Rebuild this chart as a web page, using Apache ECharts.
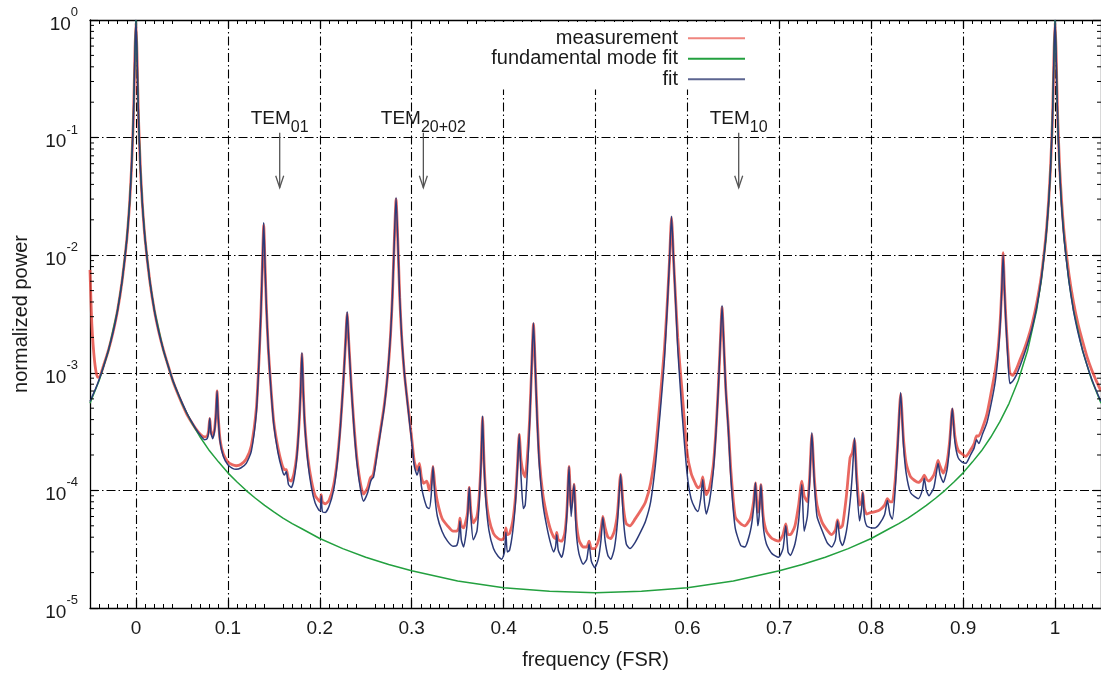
<!DOCTYPE html>
<html><head><meta charset="utf-8">
<script src="https://cdn.jsdelivr.net/npm/echarts@6/dist/echarts.min.js"></script>
<style>html,body{margin:0;padding:0;background:#fff}#c{width:1101px;height:675px}</style>
</head><body><div id="c"></div>
<script>
// ---------- data ----------
const freq = [
 -0.05, -0.048, -0.045, -0.042, -0.04, -0.035, -0.03, -0.025, -0.02, -0.015,
 -0.01, -0.007, -0.005, -0.003, -0.002, -0.001, 0, 0.001, 0.002, 0.003,
 0.005, 0.007, 0.01, 0.015, 0.02, 0.025, 0.03, 0.035, 0.04, 0.045,
 0.05, 0.055, 0.06, 0.065, 0.07, 0.0745, 0.0775, 0.079, 0.0803, 0.0815,
 0.0835, 0.0855, 0.087, 0.0883, 0.0895, 0.0915, 0.095, 0.1, 0.105, 0.109,
 0.114, 0.12, 0.1255, 0.131, 0.134, 0.136, 0.1375, 0.139, 0.1405, 0.142,
 0.144, 0.147, 0.15, 0.1545, 0.159, 0.1615, 0.1636, 0.166, 0.169, 0.172,
 0.175, 0.1775, 0.179, 0.1806, 0.1822, 0.1837, 0.187, 0.191, 0.195, 0.199,
 0.2005, 0.2016, 0.2028, 0.206, 0.21, 0.215, 0.219, 0.2225, 0.2255, 0.228,
 0.2298, 0.2316, 0.2341, 0.2371, 0.2405, 0.2445, 0.2476, 0.252, 0.2555, 0.2566,
 0.2585, 0.263, 0.27, 0.274, 0.277, 0.279, 0.2812, 0.283, 0.2848, 0.287,
 0.289, 0.292, 0.296, 0.3, 0.3029, 0.306, 0.3084, 0.3105, 0.313, 0.3165,
 0.3192, 0.3212, 0.3232, 0.3252, 0.328, 0.333, 0.339, 0.345, 0.349, 0.3512,
 0.3525, 0.354, 0.3565, 0.359, 0.3608, 0.3626, 0.3645, 0.367, 0.371, 0.3735,
 0.3755, 0.3771, 0.3787, 0.3808, 0.384, 0.389, 0.394, 0.398, 0.401, 0.4025,
 0.404, 0.4065, 0.41, 0.413, 0.415, 0.417, 0.419, 0.4215, 0.4235, 0.426,
 0.4285, 0.4305, 0.4325, 0.4345, 0.4365, 0.439, 0.4425, 0.4458, 0.4505, 0.4545,
 0.4565, 0.4578, 0.4595, 0.4632, 0.4665, 0.469, 0.4712, 0.4735, 0.4766, 0.479,
 0.482, 0.4866, 0.4905, 0.493, 0.4955, 0.4992, 0.503, 0.506, 0.508, 0.5105,
 0.5135, 0.5166, 0.5205, 0.524, 0.5273, 0.5305, 0.5335, 0.5375, 0.543, 0.5495,
 0.5545, 0.56, 0.565, 0.569, 0.572, 0.575, 0.578, 0.5805, 0.5827, 0.585,
 0.5875, 0.5895, 0.592, 0.5942, 0.5996, 0.604, 0.6085, 0.6115, 0.6145, 0.6167,
 0.6185, 0.6205, 0.624, 0.628, 0.631, 0.6335, 0.6355, 0.6377, 0.6398, 0.6418,
 0.6445, 0.6475, 0.652, 0.658, 0.6625, 0.6685, 0.672, 0.674, 0.6765, 0.678,
 0.68, 0.6825, 0.686, 0.692, 0.6992, 0.704, 0.707, 0.7095, 0.712, 0.717,
 0.721, 0.7245, 0.727, 0.7305, 0.733, 0.7354, 0.738, 0.741, 0.7463, 0.752,
 0.757, 0.761, 0.7633, 0.766, 0.7687, 0.773, 0.777, 0.7795, 0.7818, 0.784,
 0.7872, 0.7895, 0.7908, 0.7925, 0.7951, 0.8, 0.8042, 0.809, 0.8145, 0.8176,
 0.8205, 0.823, 0.826, 0.829, 0.832, 0.835, 0.838, 0.843, 0.8512, 0.8555,
 0.8577, 0.86, 0.8628, 0.868, 0.8705, 0.8727, 0.875, 0.8784, 0.8825, 0.8855,
 0.8882, 0.891, 0.8945, 0.8985, 0.903, 0.908, 0.912, 0.9146, 0.917, 0.921,
 0.926, 0.9308, 0.935, 0.938, 0.9405, 0.942, 0.9435, 0.945, 0.9465, 0.9485,
 0.9508, 0.954, 0.958, 0.962, 0.966, 0.97, 0.975, 0.98, 0.985, 0.99,
 0.993, 0.995, 0.997, 0.998, 0.999, 1.0, 1.001, 1.002, 1.003, 1.005,
 1.007, 1.01, 1.015, 1.02, 1.025, 1.03, 1.035, 1.04, 1.045, 1.05
];
const fitPower = [
 5.7e-4, 6.2e-4, 7.0e-4, 8.0e-4, 8.8e-4, 1.15e-3, 1.55e-3, 2.2e-3, 3.4e-3, 6.1e-3,
 0.0135, 0.027, 0.052, 0.13, 0.26, 0.58, 1.0, 0.58, 0.26, 0.13,
 0.052, 0.027, 0.0135, 6.1e-3, 3.4e-3, 2.2e-3, 1.55e-3, 1.15e-3, 8.7e-4, 6.9e-4,
 5.6e-4, 4.6e-4, 3.9e-4, 3.35e-4, 2.95e-4, 2.7e-4, 2.75e-4, 3.1e-4, 4.1e-4, 3.1e-4,
 2.75e-4, 3.2e-4, 4.4e-4, 7.0e-4, 4.2e-4, 2.6e-4, 1.95e-4, 1.65e-4, 1.54e-4, 1.51e-4,
 1.55e-4, 1.7e-4, 2.15e-4, 4.6e-4, 1.3e-3, 3.3e-3, 8.0e-3, 0.019, 8.0e-3, 3.5e-3,
 1.6e-3, 7.0e-4, 3.6e-4, 2.1e-4, 1.5e-4, 1.35e-4, 1.45e-4, 1.12e-4, 1.06e-4, 1.25e-4,
 1.9e-4, 3.6e-4, 6.5e-4, 1.49e-3, 6.5e-4, 3.6e-4, 1.75e-4, 1.05e-4, 7.8e-5, 6.8e-5,
 6.7e-5, 9.0e-5, 6.6e-5, 6.5e-5, 7.3e-5, 1.0e-4, 1.7e-4, 3.5e-4, 8.0e-4, 1.8e-3,
 3.3e-3, 1.8e-3, 8.0e-4, 3.5e-4, 1.7e-4, 1.0e-4, 8.1e-5, 9.5e-5, 1.2e-4, 1.25e-4,
 1.3e-4, 2.2e-4, 5.0e-4, 1.0e-3, 2.1e-3, 4.4e-3, 0.014, 0.031, 0.014, 4.4e-3,
 2.1e-3, 1.0e-3, 5.0e-4, 2.6e-4, 1.6e-4, 1.35e-4, 1.6e-4, 1.1e-4, 8.8e-5, 7.2e-5,
 7.0e-5, 9.0e-5, 1.6e-4, 9.0e-5, 6.0e-5, 4.5e-5, 3.7e-5, 3.35e-5, 3.4e-5, 4.0e-5,
 5.5e-5, 3.8e-5, 3.3e-5, 4.2e-5, 5.8e-5, 1.06e-4, 5.8e-5, 3.8e-5, 4.5e-5, 8.0e-5,
 1.7e-4, 4.3e-4, 1.7e-4, 8.0e-5, 4.6e-5, 3.2e-5, 2.75e-5, 2.6e-5, 3.0e-5, 4.4e-5,
 3.0e-5, 3.1e-5, 4.5e-5, 8.0e-5, 1.5e-4, 3.0e-4, 1.3e-4, 7.0e-5, 7.5e-5, 1.5e-4,
 4.0e-4, 1.1e-3, 2.66e-3, 1.1e-3, 4.0e-4, 1.6e-4, 8.0e-5, 5.5e-5, 3.7e-5, 3.0e-5,
 3.3e-5, 4.2e-5, 3.1e-5, 2.7e-5, 3.6e-5, 6.5e-5, 1.6e-4, 6.0e-5, 1.13e-4, 4.5e-5,
 2.9e-5, 2.36e-5, 2.6e-5, 3.5e-5, 2.5e-5, 2.2e-5, 2.6e-5, 3.8e-5, 5.9e-5, 3.7e-5,
 2.8e-5, 2.6e-5, 3.2e-5, 5.5e-5, 1.37e-4, 5.5e-5, 3.5e-5, 3.2e-5, 3.6e-5, 4.5e-5,
 5.5e-5, 8.0e-5, 1.6e-4, 3.5e-4, 6.5e-4, 1.3e-3, 3.5e-3, 9.0e-3, 0.0214, 9.0e-3,
 3.5e-3, 1.6e-3, 8.0e-4, 4.5e-4, 1.4e-4, 8.5e-5, 7.0e-5, 6.6e-5, 8.5e-5, 1.24e-4,
 8.0e-5, 6.3e-5, 8.0e-5, 1.4e-4, 3.0e-4, 7.0e-4, 1.6e-3, 3.73e-3, 1.6e-3, 7.0e-4,
 3.3e-4, 1.2e-4, 4.8e-5, 3.4e-5, 3.3e-5, 4.5e-5, 7.0e-5, 1.16e-4, 5.0e-5, 6.0e-5,
 1.12e-4, 5.0e-5, 3.5e-5, 2.9e-5, 2.7e-5, 3.2e-5, 5.0e-5, 3.0e-5, 2.8e-5, 3.5e-5,
 5.5e-5, 1.12e-4, 4.5e-5, 6.0e-5, 1.2e-4, 3.1e-4, 1.2e-4, 6.0e-5, 4.6e-5, 3.6e-5,
 3.3e-5, 3.8e-5, 5.5e-5, 3.8e-5, 3.4e-5, 4.5e-5, 8.0e-5, 1.4e-4, 2.8e-4, 1.2e-4,
 5.5e-5, 7.0e-5, 9.6e-5, 6.0e-5, 5.0e-5, 4.8e-5, 4.8e-5, 5.2e-5, 6.2e-5, 8.2e-5,
 6.2e-5, 5.7e-5, 1.0e-4, 2.5e-4, 6.8e-4, 2.5e-4, 1.4e-4, 9.5e-5, 8.5e-5, 1.0e-4,
 1.27e-4, 1.0e-4, 9.0e-5, 1.05e-4, 1.35e-4, 1.7e-4, 1.35e-4, 1.17e-4, 1.5e-4, 2.5e-4,
 5.0e-4, 2.6e-4, 1.9e-4, 1.75e-4, 1.7e-4, 2.0e-4, 2.3e-4, 2.7e-4, 2.5e-4, 3.0e-4,
 3.8e-4, 5.6e-4, 8.5e-4, 1.4e-3, 2.7e-3, 5.0e-3, 0.0101, 5.0e-3, 2.7e-3, 1.4e-3,
 8.1e-4, 8.5e-4, 9.6e-4, 1.15e-3, 1.4e-3, 1.75e-3, 2.4e-3, 3.6e-3, 6.3e-3, 0.014,
 0.028, 0.053, 0.13, 0.26, 0.58, 1.0, 0.58, 0.26, 0.13, 0.052,
 0.027, 0.0135, 6.1e-3, 3.4e-3, 2.2e-3, 1.55e-3, 1.15e-3, 8.8e-4, 7.0e-4, 5.7e-4
];
const measPower = [
 7.5e-3, 2.6e-3, 1.25e-3, 9.2e-4, 9.2e-4, 1.17e-3, 1.55e-3, 2.2e-3, 3.4e-3, 6.1e-3,
 0.0135, 0.027, 0.052, 0.13, 0.26, 0.58, 0.95, 0.58, 0.26, 0.13,
 0.052, 0.027, 0.0135, 6.1e-3, 3.4e-3, 2.2e-3, 1.55e-3, 1.15e-3, 8.6e-4, 6.8e-4,
 5.5e-4, 4.5e-4, 3.85e-4, 3.35e-4, 3.0e-4, 2.85e-4, 2.9e-4, 3.2e-4, 4.1e-4, 3.2e-4,
 2.9e-4, 3.3e-4, 4.5e-4, 7.0e-4, 4.3e-4, 2.7e-4, 2.05e-4, 1.75e-4, 1.65e-4, 1.62e-4,
 1.66e-4, 1.85e-4, 2.4e-4, 5.0e-4, 1.35e-3, 3.3e-3, 8e-3, 0.018, 8e-3, 3.5e-3,
 1.6e-3, 7.2e-4, 3.8e-4, 2.3e-4, 1.65e-4, 1.5e-4, 1.5e-4, 1.25e-4, 1.2e-4, 1.4e-4,
 2.0e-4, 3.7e-4, 6.5e-4, 1.45e-3, 6.6e-4, 3.7e-4, 1.9e-4, 1.2e-4, 9.0e-5, 8.2e-5,
 8.0e-5, 9.2e-5, 8.0e-5, 7.7e-5, 8.2e-5, 1.1e-4, 1.8e-4, 3.6e-4, 8.0e-4, 1.8e-3,
 3.2e-3, 1.8e-3, 8.2e-4, 3.7e-4, 1.85e-4, 1.12e-4, 9.3e-5, 1.05e-4, 1.3e-4, 1.3e-4,
 1.4e-4, 2.3e-4, 5.2e-4, 1.0e-3, 2.1e-3, 4.4e-3, 0.014, 0.03, 0.014, 4.4e-3,
 2.1e-3, 1.0e-3, 5.2e-4, 2.8e-4, 1.75e-4, 1.5e-4, 1.7e-4, 1.3e-4, 1.15e-4, 1.2e-4,
 1.0e-4, 1.15e-4, 1.6e-4, 1.1e-4, 8.0e-5, 5.8e-5, 5.0e-5, 4.5e-5, 4.5e-5, 4.8e-5,
 5.8e-5, 5.0e-5, 4.8e-5, 5.5e-5, 6.5e-5, 1.06e-4, 6.5e-5, 5.3e-5, 6.0e-5, 9.0e-5,
 1.8e-4, 4.2e-4, 1.8e-4, 9.0e-5, 5.8e-5, 4.3e-5, 3.9e-5, 3.8e-5, 4.0e-5, 4.8e-5,
 4.2e-5, 4.3e-5, 5.5e-5, 9.0e-5, 1.6e-4, 3.0e-4, 1.8e-4, 1.4e-4, 1.3e-4, 2.0e-4,
 4.3e-4, 1.1e-3, 2.6e-3, 1.1e-3, 4.3e-4, 1.8e-4, 9.5e-5, 6.8e-5, 4.8e-5, 4.0e-5,
 3.9e-5, 4.4e-5, 3.8e-5, 3.7e-5, 4.3e-5, 7.0e-5, 1.6e-4, 7.0e-5, 1.13e-4, 5.5e-5,
 3.8e-5, 3.3e-5, 3.3e-5, 3.7e-5, 3.2e-5, 3.2e-5, 3.7e-5, 4.7e-5, 6.0e-5, 4.8e-5,
 4.0e-5, 3.9e-5, 4.5e-5, 6.5e-5, 1.37e-4, 7.0e-5, 5.2e-5, 5.0e-5, 5.7e-5, 6.8e-5,
 8.0e-5, 1.15e-4, 2.1e-4, 4.5e-4, 8.5e-4, 1.6e-3, 3.8e-3, 9e-3, 0.021, 9e-3,
 3.8e-3, 2.0e-3, 1.1e-3, 7.0e-4, 2.1e-4, 1.4e-4, 1.15e-4, 1.05e-4, 1.1e-4, 1.3e-4,
 1.05e-4, 9.2e-5, 1.05e-4, 1.6e-4, 3.2e-4, 7.2e-4, 1.6e-3, 3.6e-3, 1.6e-3, 7.2e-4,
 3.5e-4, 1.4e-4, 6.0e-5, 5.2e-5, 5.0e-5, 5.8e-5, 8.0e-5, 1.16e-4, 6.5e-5, 7.0e-5,
 1.12e-4, 6.0e-5, 4.5e-5, 3.9e-5, 3.7e-5, 4.2e-5, 5.2e-5, 4.2e-5, 4.2e-5, 5.0e-5,
 7.5e-5, 1.2e-4, 9.0e-5, 8.0e-5, 1.3e-4, 3.0e-4, 1.3e-4, 7.5e-5, 5.4e-5, 4.6e-5,
 4.2e-5, 4.6e-5, 5.6e-5, 4.8e-5, 5.0e-5, 9.0e-5, 1.9e-4, 2.1e-4, 2.7e-4, 1.4e-4,
 7.5e-5, 8.0e-5, 9.6e-5, 7.0e-5, 6.3e-5, 6.5e-5, 6.6e-5, 6.8e-5, 7.5e-5, 8.5e-5,
 8.0e-5, 8.0e-5, 1.2e-4, 2.7e-4, 6.6e-4, 2.8e-4, 1.7e-4, 1.3e-4, 1.17e-4, 1.25e-4,
 1.35e-4, 1.25e-4, 1.2e-4, 1.35e-4, 1.55e-4, 1.8e-4, 1.6e-4, 1.4e-4, 1.75e-4, 2.7e-4,
 4.9e-4, 2.9e-4, 2.2e-4, 2.05e-4, 1.95e-4, 2.2e-4, 2.5e-4, 2.9e-4, 2.9e-4, 3.4e-4,
 4.5e-4, 7.0e-4, 1.05e-3, 1.6e-3, 2.9e-3, 5.2e-3, 0.0105, 5.2e-3, 2.9e-3, 1.6e-3,
 1.0e-3, 9.5e-4, 1.08e-3, 1.3e-3, 1.55e-3, 1.9e-3, 2.6e-3, 3.9e-3, 6.6e-3, 0.0145,
 0.029, 0.054, 0.13, 0.26, 0.58, 0.95, 0.6, 0.28, 0.14, 0.056,
 0.03, 0.015, 7.0e-3, 4.0e-3, 2.6e-3, 1.85e-3, 1.35e-3, 1.05e-3, 8.5e-4, 7.0e-4
];
const fundFreq = [
 -0.05, -0.04, -0.03, -0.02, -0.015, -0.01, -0.007, -0.005, -0.003, -0.002, -0.001, 0,
 0.001, 0.002, 0.003, 0.005, 0.007, 0.01, 0.015, 0.02, 0.03, 0.04, 0.05, 0.06, 0.07, 0.08,
 0.09, 0.1, 0.11, 0.12, 0.13, 0.14, 0.15, 0.16, 0.17, 0.18, 0.2, 0.225, 0.25, 0.275, 0.3,
 0.35, 0.4, 0.45, 0.5, 0.55, 0.6, 0.65, 0.7, 0.725, 0.75, 0.775, 0.8, 0.82, 0.83, 0.84,
 0.85, 0.86, 0.87, 0.88, 0.89, 0.9, 0.91, 0.92, 0.93, 0.94, 0.95, 0.96, 0.97, 0.98, 0.985,
 0.99, 0.993, 0.995, 0.997, 0.998, 0.999, 1.0, 1.001, 1.002, 1.003, 1.005, 1.007, 1.01,
 1.015, 1.02, 1.03, 1.04, 1.05
];
const fundPower = [
 5.5e-4, 8.6e-4, 1.53e-3, 3.42e-3, 6.06e-3, 0.0135, 0.0272, 0.052, 0.132, 0.255, 0.58, 1.0,
 0.58, 0.255, 0.132, 0.052, 0.0272, 0.0135, 6.06e-3, 3.42e-3, 1.53e-3, 8.6e-4, 5.5e-4, 3.84e-4, 2.83e-4, 2.17e-4,
 1.74e-4, 1.41e-4, 1.18e-4, 9.97e-5, 8.57e-5, 7.45e-5, 6.56e-5, 5.81e-5, 5.21e-5, 4.74e-5, 3.9e-5, 3.2e-5, 2.7e-5, 2.34e-5, 2.07e-5,
 1.7e-5, 1.49e-5, 1.385e-5, 1.35e-5, 1.385e-5, 1.49e-5, 1.7e-5, 2.07e-5, 2.34e-5, 2.7e-5, 3.2e-5, 3.9e-5, 4.74e-5, 5.21e-5, 5.81e-5,
 6.56e-5, 7.45e-5, 8.57e-5, 9.97e-5, 1.18e-4, 1.41e-4, 1.74e-4, 2.17e-4, 2.83e-4, 3.84e-4, 5.5e-4, 8.6e-4, 1.53e-3, 3.42e-3, 6.06e-3,
 0.0135, 0.0272, 0.052, 0.132, 0.255, 0.58, 1.0, 0.58, 0.255, 0.132, 0.052, 0.0272, 0.0135,
 6.06e-3, 3.42e-3, 1.53e-3, 8.6e-4, 5.5e-4
];
const xTicks = [0, 0.1, 0.2, 0.3, 0.4, 0.5, 0.6, 0.7, 0.8, 0.9, 1];
const yMinorTicks = [
 2e-5, 3e-5, 4e-5, 5e-5, 6e-5, 7e-5, 8e-5, 9e-5,
 2e-4, 3e-4, 4e-4, 5e-4, 6e-4, 7e-4, 8e-4, 9e-4,
 2e-3, 3e-3, 4e-3, 5e-3, 6e-3, 7e-3, 8e-3, 9e-3,
 2e-2, 3e-2, 4e-2, 5e-2, 6e-2, 7e-2, 8e-2, 9e-2,
 0.2, 0.3, 0.4, 0.5, 0.6, 0.7, 0.8, 0.9
];
const annotFreq = [0.1564, 0.3127, 0.6558];
const annotSub = ['01', '20+02', '10'];
const arrowTop = 0.11, arrowBottom = 0.0375;
const seriesNames = ['measurement', 'fundamental mode fit', 'fit'];

// ---------- chart ----------
const FONT = '"Liberation Sans", Arial, Helvetica, sans-serif';
const TXT = '#1a1a1a';
const XMIN = -0.05, XMAX = 1.05;
const gridLine = { color: '#000', width: 1.1, type: [9, 3, 1.5, 3] };
const axisLine = { show: true, onZero: false, lineStyle: { color: '#000', width: 1.3 } };

const chart = echarts.init(document.getElementById('c'), null, { renderer: 'canvas' });

const xAxisCommon = {
  type: 'value', min: XMIN, max: XMAX, interval: 0.1,
  axisLine: axisLine,
  axisTick: { show: true, inside: true, length: 8, customValues: xTicks, lineStyle: { color: '#000', width: 1.2 } },
  minorTick: { show: true, splitNumber: 10, length: 4, lineStyle: { color: '#000', width: 1 } },
  minorSplitLine: { show: false }
};

const option = {
  animation: false,
  backgroundColor: '#fff',
  grid: { left: 90, top: 20, width: 1012, height: 589, containLabel: false },
  legend: {
    data: seriesNames, orient: 'vertical', right: 348, top: 22, align: 'right',
    icon: 'rect', itemWidth: 57, itemHeight: 2, itemGap: 0,
    backgroundColor: '#fff', padding: [6, 8, 0, 10], z: 3,
    textStyle: { fontSize: 20, lineHeight: 20.5, color: TXT, fontFamily: FONT, padding: [0, 5, 0, 0] }
  },
  xAxis: [
    Object.assign({}, xAxisCommon, {
      position: 'bottom',
      axisLabel: { customValues: xTicks, margin: 11, fontSize: 19, color: TXT, fontFamily: FONT },
      splitLine: { show: true, lineStyle: gridLine },
      name: 'frequency (FSR)', nameLocation: 'middle', nameGap: 42,
      nameTextStyle: { fontSize: 20, color: TXT, fontFamily: FONT }
    }),
    Object.assign({}, xAxisCommon, {
      position: 'top',
      axisLabel: { show: false },
      splitLine: { show: false }
    })
  ],
  yAxis: [
    {
      type: 'log', logBase: 10, min: 1e-5, max: 1, position: 'left',
      axisLine: axisLine,
      axisTick: { show: true, inside: true, length: 8, lineStyle: { color: '#000', width: 1.2 } },
      axisLabel: {
        margin: 12, color: TXT, fontFamily: FONT,
        formatter: v => '{b|10}{s|' + Math.round(Math.log10(v)) + '}',
        rich: {
          b: { fontSize: 19, lineHeight: 28, verticalAlign: 'bottom', fontFamily: FONT, color: TXT },
          s: { fontSize: 13, lineHeight: 14, verticalAlign: 'top', fontFamily: FONT, color: TXT }
        }
      },
      splitLine: { show: true, lineStyle: gridLine },
      name: 'normalized power', nameLocation: 'middle', nameGap: 59,
      nameTextStyle: { fontSize: 20, color: TXT, fontFamily: FONT }
    },
    {
      type: 'log', logBase: 10, min: 1e-5, max: 1, position: 'right',
      axisLine: axisLine,
      axisTick: { show: true, inside: true, length: 8, lineStyle: { color: '#000', width: 1.2 } },
      axisLabel: { show: false },
      splitLine: { show: false }
    }
  ],
  series: [
    {
      name: seriesNames[0], type: 'line', symbol: 'none', showSymbol: false, z: 2,
      smooth: 0.2,
      data: freq.map((f, i) => [f, measPower[i]]),
      lineStyle: { color: '#e3423a', width: 2.8, opacity: 0.8 },
      itemStyle: { color: '#ef857e' }
    },
    {
      name: seriesNames[1], type: 'line', symbol: 'none', showSymbol: false, z: 3,
      data: fundFreq.map((f, i) => [f, fundPower[i]]),
      lineStyle: { color: '#23a03f', width: 1.5 },
      itemStyle: { color: '#23a03f' }
    },
    {
      name: seriesNames[2], type: 'line', symbol: 'none', showSymbol: false, z: 4,
      smooth: 0.2,
      data: freq.map((f, i) => [f, fitPower[i]]),
      lineStyle: { color: '#2c3a78', width: 1.5 },
      itemStyle: { color: '#5c6590' }
    },
    {
      name: 'yMinor', type: 'custom', coordinateSystem: 'cartesian2d', silent: true, z: 6, clip: false,
      data: yMinorTicks.map(v => [XMIN, v]),
      renderItem: (params, api) => {
        const v = api.value(1);
        const pl = api.coord([XMIN, v]);
        const pr = api.coord([XMAX, v]);
        const st = { stroke: '#000', lineWidth: 1 };
        return { type: 'group', children: [
          { type: 'line', shape: { x1: pl[0], y1: pl[1], x2: pl[0] + 4, y2: pl[1] }, style: st },
          { type: 'line', shape: { x1: pr[0] - 4, y1: pr[1], x2: pr[0], y2: pr[1] }, style: st }
        ] };
      }
    },
    {
      name: 'annot', type: 'custom', coordinateSystem: 'cartesian2d', silent: true, z: 7, clip: false,
      data: annotFreq.map((f, i) => [f, arrowTop, arrowBottom, i]),
      renderItem: (params, api) => {
        const f = api.value(0);
        const p1 = api.coord([f, api.value(1)]);
        const p2 = api.coord([f, api.value(2)]);
        const idx = api.value(3);
        const st = { stroke: '#555', lineWidth: 1.3, fill: null };
        return { type: 'group', children: [
          { type: 'line', shape: { x1: p1[0], y1: p1[1], x2: p2[0], y2: p2[1] }, style: st },
          { type: 'polyline', shape: { points: [[p2[0] - 4, p2[1] - 12], [p2[0], p2[1]], [p2[0] + 4, p2[1] - 12]] }, style: st },
          { type: 'text', x: p1[0], y: p1[1] - 23, style: {
              text: '{t|TEM}{s|' + annotSub[idx] + '}', align: 'center', verticalAlign: 'top',
              rich: {
                t: { fontSize: 19, lineHeight: 26, verticalAlign: 'top', fontFamily: FONT, fill: TXT, color: TXT },
                s: { fontSize: 16, lineHeight: 16, verticalAlign: 'bottom', fontFamily: FONT, fill: TXT, color: TXT }
              }
            } }
        ] };
      }
    }
  ]
};
chart.setOption(option);
</script>
</body></html>
